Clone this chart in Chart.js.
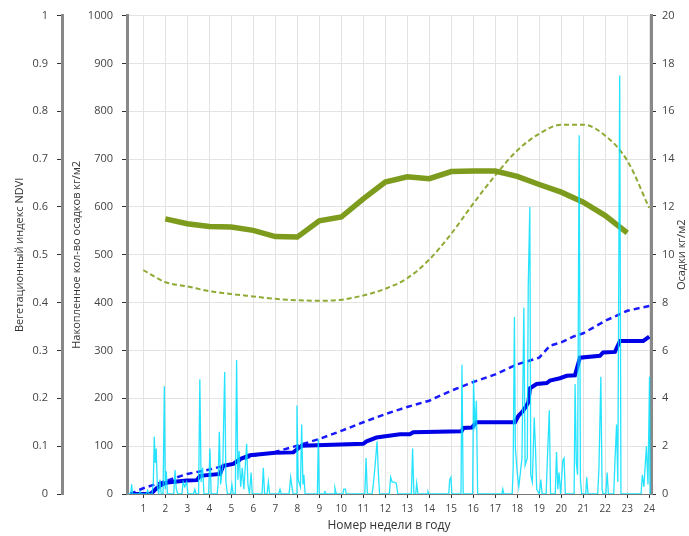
<!DOCTYPE html>
<html>
<head>
<meta charset="utf-8">
<script src="https://cdn.jsdelivr.net/npm/chart.js@4.4.1/dist/chart.umd.min.js"></script>
<style>
body { margin: 0; background: #fff; }
</style>
</head>
<body>
<canvas id="chart-ndvi" width="689" height="536"></canvas>
<script>
// tick labels of the week axis
var weekLabels = ['1','2','3','4','5','6','7','8','9','10','11','12','13','14','15','16','17','18','19','20','21','22','23','24'];

// NDVI of the current year (weeks 2..23)
var ndviWeeks = [2,3,4,5,6,7,8,9,10,11,12,13,14,15,16,17,18,19,20,21,22,23];
var ndviVal = [0.575,0.565,0.559,0.558,0.551,0.538,0.537,0.571,0.579,0.617,0.652,0.663,0.659,0.674,0.675,0.675,0.664,0.647,0.631,0.610,0.582,0.546];

// NDVI, many-year average (weeks 1..24)
var ndviAvgWeeks = [1,2,3,4,5,6,7,8,9,10,11,12,13,14,15,16,17,18,19,20,21,22,23,24];
var ndviAvgVal = [0.468,0.443,0.434,0.424,0.418,0.413,0.408,0.405,0.404,0.406,0.415,0.429,0.451,0.490,0.544,0.607,0.666,0.718,0.753,0.772,0.772,0.749,0.697,0.598];

// accumulated precipitation, current year: [week, kg/m2]
var accCur = [[0.4,0],[1.3,0],[1.45,5],[1.6,12],[1.75,17],[1.95,22],[2.1,24],[2.97,28],[3.43,29],[3.58,38],
  [4.49,42],[4.64,59],[5.09,63],[5.4,73],[5.85,81],[7.0,86],[7.82,87],[8.2,101],[11.0,105],[11.15,110],
  [11.6,118],[12.67,125],[13.12,125],[13.27,129],[15.47,131],[15.55,138],[15.93,139],[16.15,150],[17.9,150],
  [18.05,163],[18.27,174],[18.5,191],[18.58,221],[18.88,230],[19.34,232],[19.49,237],[19.94,242],[20.25,247],
  [20.62,248],[20.85,285],[21.76,289],[21.9,296],[22.44,297],[22.67,320],[23.73,320],[24.0,329]];

// accumulated precipitation, average: [week, kg/m2]
var accAvg = [[0.4,0],[1,12],[2,27],[3,42],[4,51],[5,63],[6,80],[7,88],[8,101],[9,115],[10,132],[11,150],[12,167],
  [12.67,177],[13,182],[14,195],[15,216],[16,234],[17,250],[18,271],[19,285],[19.49,310],[20,317],[20.54,329],
  [21,336],[22,362],[23,383],[24,393]];

// daily precipitation: [day of period, kg/m2]
var rain = [[2,0],[3,0],[3.3,0.4],[3.6,0],[5.6,0],[6,0.1],[6.4,0],[8,0],[8.4,0.15],[8.8,0],[9.8,0],[10.2,0.5],
  [10.5,2.4],[10.8,1.3],[11.1,1.9],[11.5,0.3],[11.9,0],[12.3,0.6],[12.7,0],[13.3,0],[13.7,4.5],[14.0,0.2],
  [14.3,0.95],[14.7,0],[16.7,0],[17.1,1.0],[17.5,0.2],[18,0],[19.3,0],[19.7,0.5],[20.2,0.3],[20.8,0.5],[21.2,0],
  [23,0],[23.4,0.2],[23.8,0],[24.6,0],[25.0,4.8],[25.4,0.5],[25.9,1.1],[26.3,0],[27.8,0],[28.2,1.9],[28.6,0],
  [30.5,0],[30.8,0.4],[31.2,2.6],[31.6,0.4],[32.3,1.2],[32.9,5.1],[33.3,0.5],[33.8,0],[34.8,0],[35.2,0.4],
  [35.6,0],[36.3,0],[36.7,5.6],[37.1,0.6],[37.5,1.8],[38,0.3],[38.5,1.1],[39,0.2],[39.9,2.1],[40.3,0.4],
  [40.8,0],[41.3,0.9],[41.7,0],[44.8,0],[45.2,1.1],[45.6,0],[46.4,0],[46.8,0.5],[47.2,0],[50.1,0],[50.5,0.2],
  [50.9,0],[53.4,0],[53.9,0.7],[54.3,0.3],[54.7,0],[55.6,0],[55.9,3.7],[56.3,0.6],[57.0,0.3],[57.4,2.9],
  [57.8,0.4],[58.1,0.8],[58.5,0],[62.4,0],[62.7,2.3],[63.0,0],[64.5,0],[64.8,0.1],[65.2,0],[67.7,0],[68.0,0.25],
  [68.4,0],[70.5,0],[70.8,0.2],[71.3,0.2],[71.6,0],[77.5,0],[77.9,1.5],[78.3,0],[79.8,0],[80.2,0.4],[80.7,1.1],
  [81.4,2.2],[81.8,0.9],[82.2,0],[85.3,0],[85.7,0.7],[86.2,0.5],[86.8,0.5],[87.5,0.45],[88.0,0],[92.3,0],
  [92.7,1.9],[93.1,0],[93.7,0],[94.0,0.45],[94.4,0],[97.3,0],[97.6,0.1],[97.9,0],[104.2,0],[104.5,0.6],
  [104.9,0.7],[105.2,0],[108.1,0],[108.4,5.4],[108.8,0],[111.8,0],[112.1,4.8],[112.5,2.7],[113.0,3.9],[113.4,0],
  [121.1,0],[121.4,0.2],[121.7,0],[124.4,0],[124.7,1.1],[125.1,7.4],[125.4,1.9],[126.0,0.9],[126.5,0.3],
  [127.5,1.5],[128.1,7.8],[128.5,1.2],[129.2,1.5],[129.5,8.7],[130.0,12.0],[130.3,0.8],[130.8,0.5],[131.4,3.2],
  [131.8,1.9],[132.2,0.2],[133.0,0],[133.5,0.6],[133.9,0],[135.2,0],[135.6,1.5],[136.2,3.5],[136.6,0],[138.1,0],
  [138.5,1.75],[138.9,0.2],[139.3,0.9],[139.8,0],[140.5,1.4],[140.9,1.5],[141.3,0],[144.1,0],[144.4,4.6],
  [144.8,1.3],[145.2,0.8],[145.7,15.0],[146.1,0.6],[146.5,0],[147.8,0],[148.1,0.7],[148.5,0],[151.6,0],
  [152.0,1.1],[152.6,4.9],[153.0,0.2],[153.3,0],[154.2,0],[154.6,0.9],[155.0,0],[156.7,0],[157.1,1.4],
  [157.6,2.9],[158.0,0.5],[158.6,17.5],[159.0,0],[165.4,0],[165.8,0.8],[166.3,0.3],[167.1,2.0],[167.6,0.4],
  [168.1,4.9],[168.3,0]];

Chart.defaults.font.family = '"Open Sans", sans-serif';
Chart.defaults.color = '#444';

function pairs(list) {
    return list.map(function(p) { return {x: p[0], y: p[1]}; });
}

// right axis title reads bottom-to-top like the left ones
var rightTitle = {
    id: 'rightTitle',
    afterDraw: function(chart) {
        var ctx = chart.ctx;
        var s = chart.scales.yRain;
        ctx.save();
        ctx.translate(s.right - 7, (s.top + s.bottom) / 2);
        ctx.rotate(-Math.PI / 2);
        ctx.font = '11px "Open Sans"';
        ctx.fillStyle = '#333';
        ctx.textAlign = 'center';
        ctx.textBaseline = 'middle';
        ctx.fillText('Осадки кг/м2', 0, 0);
        ctx.restore();
    }
};

var gridColor = '#e3e3e3';

var ctx = document.getElementById('chart-ndvi').getContext('2d');
var ndviChart = new Chart(ctx, {
    type: 'line',
    data: {
        datasets: [
            {
                label: 'Осадки',
                data: rain.map(function(p) { return {x: p[0] / 7, y: p[1]}; }),
                yAxisID: 'yRain',
                borderColor: 'rgba(0,222,255,0.85)',
                borderWidth: 1.3,
                order: 0
            },
            {
                label: 'Накопленные осадки',
                data: pairs(accCur),
                yAxisID: 'yAcc',
                borderColor: '#0000e6',
                borderWidth: 4,
                order: 1
            },
            {
                label: 'Накопленные осадки (среднее)',
                data: pairs(accAvg),
                yAxisID: 'yAcc',
                borderColor: '#1a1aff',
                borderWidth: 2.5,
                borderDash: [6, 4],
                order: 2
            },
            {
                label: 'NDVI',
                data: ndviWeeks.map(function(w, i) { return {x: w, y: ndviVal[i]}; }),
                yAxisID: 'yNdvi',
                borderColor: '#7d9b1c',
                borderWidth: 5.5,
                order: 3
            },
            {
                label: 'NDVI (среднее)',
                data: ndviAvgWeeks.map(function(w, i) { return {x: w, y: ndviAvgVal[i]}; }),
                yAxisID: 'yNdvi',
                borderColor: '#8eaa34',
                borderWidth: 2,
                borderDash: [5, 3],
                cubicInterpolationMode: 'monotone',
                order: 4
            }
        ]
    },
    options: {
        responsive: false,
        animation: false,
        elements: { point: { radius: 0 }, line: { fill: false } },
        layout: { padding: { top: 15, left: 0, right: 0, bottom: 0 } },
        plugins: { legend: { display: false }, tooltip: { enabled: false } },
        scales: {
            x: {
                type: 'linear',
                min: 0.26,
                max: 24.08,
                afterBuildTicks: function(scale) {
                    scale.ticks = weekLabels.map(function(l, i) { return {value: i + 1}; });
                },
                afterFit: function(scale) { scale.height = 42; },
                ticks: {
                    autoSkip: false, maxRotation: 0, padding: 5, font: { size: 10 },
                    callback: function(v, i) { return weekLabels[i]; }
                },
                grid: { color: gridColor, tickColor: '#333', tickLength: 4 },
                border: { color: '#777', width: 1 },
                title: { display: true, text: 'Номер недели в году', color: '#333', font: { size: 12 }, padding: { top: 0, bottom: 3 } }
            },
            yNdvi: {
                position: 'left',
                weight: 2,
                min: 0,
                max: 1,
                afterFit: function(scale) { scale.width = 62; },
                ticks: {
                    stepSize: 0.1, padding: 9, font: { size: 11 },
                    callback: function(v) { return String(Math.round(v * 10) / 10); }
                },
                grid: { drawOnChartArea: false, tickColor: '#333', tickLength: 5 },
                border: { color: '#888', width: 3 },
                title: { display: true, text: 'Вегетационный индекс NDVI', color: '#333', font: { size: 11 }, padding: { top: 13.5, bottom: 0 } }
            },
            yAcc: {
                position: 'left',
                weight: 1,
                min: 0,
                max: 1000,
                afterFit: function(scale) { scale.width = 65; },
                ticks: {
                    stepSize: 100, padding: 9, font: { size: 11 },
                    callback: function(v) { return String(v); }
                },
                grid: { color: gridColor, tickColor: '#333', tickLength: 5 },
                border: { color: '#888', width: 3 },
                title: { display: true, text: 'Накопленное кол-во осадков кг/м2', color: '#333', font: { size: 11 }, padding: { top: 8.5, bottom: 0 } }
            },
            yRain: {
                position: 'right',
                min: 0,
                max: 20,
                afterFit: function(scale) { scale.width = 38; },
                ticks: {
                    stepSize: 2, padding: 6, font: { size: 11 },
                    callback: function(v) { return String(v); }
                },
                grid: { drawOnChartArea: false, tickColor: '#333', tickLength: 5 },
                border: { color: '#888', width: 3 }
            }
        }
    },
    plugins: [rightTitle]
});
</script>
</body>
</html>
